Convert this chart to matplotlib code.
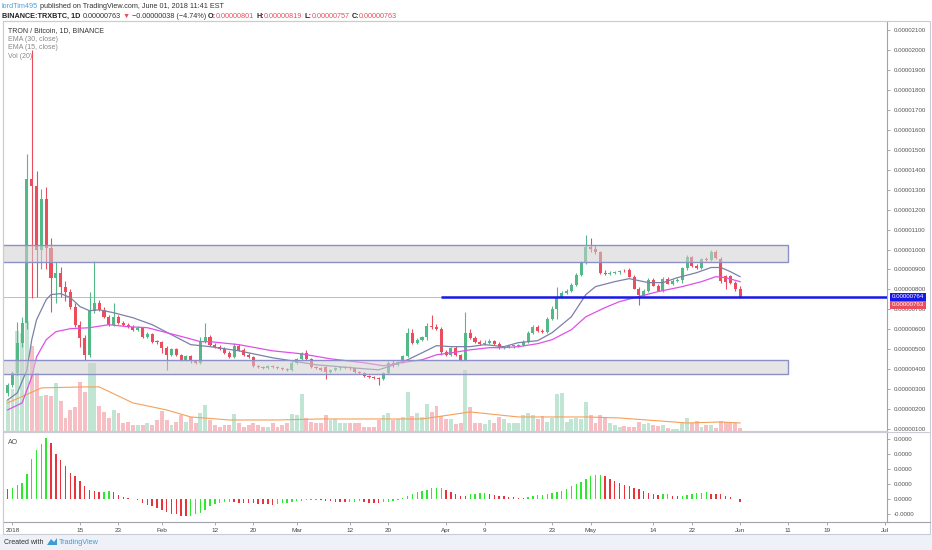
import numpy as np
import matplotlib
matplotlib.use("Agg")
import matplotlib.pyplot as plt
from matplotlib.patches import Rectangle, Polygon
from matplotlib.transforms import blended_transform_factory

W, H = 932, 550
plt.rcParams["font.family"] = ["Liberation Sans", "DejaVu Sans"]

# daily candles Dec 31 2017 .. Jun 01 2018, prices in satoshi (1e-8 BTC)
opens = [281,322,382,533,633,1352,1317,1000,1251,1010,
         859,884,814,789,714,623,558,472,693,734,
         698,663,623,663,633,623,613,598,608,563,
         575,538,535,508,472,500,472,447,467,440,
         432,540,563,523,513,503,482,462,518,498,
         472,462,417,412,407,417,412,407,402,397,
         432,452,482,450,412,405,410,387,397,405,
         408,410,404,387,382,367,362,357,352,382,
         432,420,437,467,583,533,548,560,618,610,
         603,487,472,508,472,447,583,558,538,528,
         533,543,528,508,513,515,518,523,538,583,
         613,593,588,653,700,764,784,794,824,874,
         935,1015,1005,990,884,879,882,886,894,899,
         864,804,774,794,849,819,794,854,829,844,
         849,905,965,915,905,955,945,990,955,866,
         866,834,801]
highs = [330,390,638,660,1477,2000,1392,1302,1312,1060,
         935,910,840,800,730,640,570,789,940,745,
         710,670,734,670,640,630,620,618,612,585,
         580,545,540,515,505,505,478,472,470,445,
         560,633,570,530,520,510,490,530,525,505,
         480,465,422,416,422,420,418,412,408,440,
         458,488,495,455,418,410,415,400,410,412,
         415,414,408,392,385,372,368,362,388,440,
         445,442,472,608,600,555,565,630,673,625,
         612,495,512,515,478,688,600,565,545,545,
         550,548,535,518,520,523,528,545,590,620,
         620,600,660,715,814,790,800,830,880,940,
         1075,1060,1025,995,895,890,890,898,902,905,
         870,810,800,855,858,825,860,862,850,855,
         910,975,970,925,960,962,1000,1000,965,870,
         870,840,819]
lows = [265,310,370,510,600,759,760,900,900,688,
        734,760,740,700,610,513,447,460,680,690,
        655,615,615,625,615,605,590,590,555,555,
        530,528,482,397,465,465,440,440,432,425,
        425,530,515,505,495,475,455,455,490,465,
        455,410,405,400,402,405,400,395,390,392,
        425,445,445,405,400,390,352,380,390,398,
        400,398,382,376,362,355,350,322,345,376,
        412,415,430,460,525,525,540,545,600,595,
        472,465,465,465,440,440,550,530,520,520,
        525,522,500,502,505,508,512,515,530,575,
        588,580,580,645,650,755,775,785,815,865,
        925,990,980,875,870,872,875,878,885,860,
        800,724,765,785,815,790,788,825,822,835,
        830,895,910,900,900,940,940,955,830,800,
        825,790,757]
closes = [322,382,533,633,1352,1317,1000,1251,1010,859,
          884,814,789,714,623,558,472,693,734,698,
          663,623,663,633,623,613,598,608,563,575,
          538,535,508,472,500,472,447,467,440,432,
          540,563,523,513,503,482,462,518,498,472,
          462,417,412,407,417,412,407,402,397,432,
          452,482,450,412,405,397,387,397,405,408,
          410,404,387,382,367,362,357,352,382,432,
          420,437,467,583,533,548,560,618,610,603,
          487,472,508,472,447,583,558,538,528,533,
          543,528,508,513,515,518,523,538,583,613,
          593,588,653,700,764,784,794,824,874,935,
          1015,1005,990,884,879,882,886,894,890,864,
          804,774,794,849,819,794,854,829,844,849,
          905,965,915,905,955,945,990,960,840,836,
          834,801,763]
volume = [31,42,100,98,110,85,58,35,36,35,
          48,30,13,21,24,49,39,68,68,25,
          19,13,21,18,8,9,6,6,6,8,
          6,11,20,11,6,9,16,9,14,8,
          18,26,11,6,4,6,6,17,8,4,
          6,8,6,4,4,8,4,6,8,17,
          16,37,13,9,8,8,16,11,12,8,
          8,8,8,8,4,4,4,11,16,18,
          11,12,14,39,15,18,14,27,19,25,
          15,12,12,7,8,61,24,8,8,7,
          11,8,14,12,8,8,8,16,18,16,
          12,15,9,13,37,38,9,12,13,12,
          29,16,8,16,14,8,6,4,5,4,
          4,9,7,8,6,5,6,3,2,2,
          9,13,8,10,4,6,6,3,10,9,
          8,8,3]
ao = [69,71,91,109,169,269,324,364,407,375,
      298,258,220,175,153,118,87,58,51,46,
      48,53,44,27,11,4,1,-9,-27,-40,
      -49,-62,-71,-89,-98,-100,-111,-116,-111,-100,
      -93,-71,-49,-33,-27,-22,-20,-22,-24,-26,
      -27,-29,-31,-33,-35,-37,-33,-29,-25,-20,
      -16,-12,-9,-6,-3,-8,-12,-15,-18,-20,
      -22,-20,-18,-16,-20,-24,-27,-28,-22,-18,
      -11,-4,4,22,33,44,56,62,71,72,
      73,58,49,33,22,18,33,34,40,41,
      33,27,22,18,13,11,9,8,13,18,
      24,27,33,40,49,56,67,84,100,116,
      133,151,160,161,151,133,118,104,93,89,
      76,67,53,40,33,29,33,34,22,18,
      22,29,33,38,40,44,36,35,33,22,
      13,1,-22]
ao_before = 75

ema15_days = [-1,1,3,4,5,7,8,10,12,14,16,18,21,25,29,33,37,41,47,54,
              58,63,68,73,76,78,82,85,88,91,95,98,102,105,109,112,116,119,121,125,
              128,132,135,138,142,145,147,149,151]
ema15_vals = [246,281,397,548,648,749,774,779,759,714,693,698,683,658,623,573,523,513,492,457,
              442,422,412,402,397,412,447,482,518,513,513,523,513,533,543,583,663,774,814,839,
              854,834,834,859,884,910,910,889,864]
ema30_days = [-1,2,4,5,7,9,12,16,20,24,28,32,36,39,41,47,54,60,66,73,
              77,82,85,88,91,95,99,102,105,109,112,116,119,123,126,130,134,139,143,146,
              148,151]
ema30_vals = [196,231,362,462,548,588,603,608,623,613,608,583,558,538,538,523,492,477,452,432,
              417,437,447,472,482,497,508,508,513,528,548,598,663,709,739,764,789,814,839,864,
              859,839]
volma_days = [-1,6,15,18,25,32,37,45,55,64,78,85,95,105,119,126,140,147,151]
volma_vals = [28,43,44,44,28,21,14,11,11,12,12,12,19,14,14,13,8,9,8]

tick_days = [0,14,22,31,42,50,59,70,78,90,98,112,120,133,141,151,161,169,181]
tick_labels = ["2018","15","23","Feb","12","20","Mar","12","20","Apr","9","23",
               "May","14","22","Jun","11","19","Jul"]
price_ticks = list(range(100, 2200, 100))
ao_ticks = [-100, 0, 100, 200, 300, 400]

zone_hi = (935, 1025)
zone_lo = (377, 447)
zone_end = 161
level = 764
level_start = 89
last = 763

GREEN, RED = "#53b987", "#eb4d5c"
GRID = "#c9ccd4"


def rect(l, t, r, b):
    return [l / W, 1 - b / H, (r - l) / W, (b - t) / H]


fig = plt.figure(figsize=(W / 100, H / 100), dpi=100)
fig.patch.set_facecolor("white")

days = np.arange(len(opens)) - 1
o, h, l, c = map(np.array, (opens, highs, lows, closes))
col = np.where(c >= o, GREEN, RED)
XLIM = (-1.97, 181.5)

ax_vol = fig.add_axes(rect(3, 21, 887, 431))
ax = fig.add_axes(rect(3, 21, 887, 431), sharex=ax_vol)
ax_ao = fig.add_axes(rect(3, 432, 887, 522), sharex=ax_vol)
ax.patch.set_visible(False)

# volume overlay
ax_vol.bar(days, volume, width=0.82, color=col, alpha=0.36, linewidth=0)
ax_vol.plot(volma_days, volma_vals, color="#f5a05a", lw=0.8)
ax_vol.set_ylim(0, 409)
ax_vol.axis("off")

# candles
ax.vlines(days, l, h, colors=col, lw=0.8, zorder=3)
ax.bar(days, np.maximum(np.abs(c - o), 4), bottom=np.minimum(o, c), width=0.64,
       color=col, linewidth=0, zorder=4)
ax.plot(ema15_days, ema15_vals, color="#7c80a8", lw=0.9, zorder=5)
ax.plot(ema30_days, ema30_vals, color="#e050e6", lw=0.9, zorder=5)

# zones
for lo_, hi_ in (zone_hi, zone_lo):
    ax.add_patch(Rectangle((XLIM[0] - 1, lo_), zone_end - XLIM[0] + 1, hi_ - lo_,
                           facecolor="#d0d0d0", alpha=0.55, linewidth=0, zorder=6))
    ax.add_patch(Rectangle((XLIM[0] - 1, lo_), zone_end - XLIM[0] + 1, hi_ - lo_,
                           fill=False, edgecolor="#8d90c8", lw=1.0, zorder=6))

ax.axhline(last, color="#f3a6ae", lw=0.7, zorder=2)
ax.hlines(level, level_start, XLIM[1], color="#1717e6", lw=1.8, zorder=7)

ax.set_xlim(*XLIM)
ax.set_ylim(90, 2146)
ax.yaxis.tick_right()
ax.set_yticks(price_ticks, [f"{v * 1e-8:.8f}" for v in price_ticks])
ax.tick_params(axis="y", right=True, length=2.5, width=0.6, color="#999",
               labelsize=4.4, labelcolor="#555", pad=2)
ax.tick_params(axis="x", bottom=False, labelbottom=False)
for s in ax.spines.values():
    s.set_color(GRID)
    s.set_linewidth(0.8)
ax.spines["right"].set_color("#a0a3ab")

tr = blended_transform_factory(ax.transAxes, ax.transData)
ax.annotate(f"{level * 1e-8:.8f}", xy=(1, level), xycoords=tr, xytext=(5, 0),
            textcoords="offset pixels", va="center", ha="left", fontsize=4.4,
            color="white", annotation_clip=False,
            bbox=dict(boxstyle="square,pad=0.25", fc="#1717e6", ec="none"))
ax.annotate(f"{last * 1e-8:.8f}", xy=(1, last), xycoords=tr, xytext=(5, -8),
            textcoords="offset pixels", va="center", ha="left", fontsize=4.4,
            color="white", annotation_clip=False,
            bbox=dict(boxstyle="square,pad=0.25", fc=RED, ec="none"))

# AO pane
diff = np.diff(np.array(ao), prepend=ao_before)
ao_col = np.where(diff > 0, "#2ee82e", "#e8333c")
ax_ao.bar(days, ao, width=0.3, color=ao_col, linewidth=0)
ax_ao.set_ylim(-153, 447)
ax_ao.yaxis.tick_right()
ax_ao.set_yticks(ao_ticks, [f"{v * 1e-8:.4f}" for v in ao_ticks])
ax_ao.tick_params(axis="y", right=True, length=2.5, width=0.6, color="#999",
                  labelsize=4.4, labelcolor="#555", pad=2)
ax_ao.set_xticks(tick_days, tick_labels)
ax_ao.tick_params(axis="x", length=2, width=0.6, color="#999", labelsize=4.6,
                  labelcolor="#444", pad=2)
for s in ax_ao.spines.values():
    s.set_color(GRID)
    s.set_linewidth(0.8)
ax_ao.spines["right"].set_color("#a0a3ab")
ax_ao.spines["bottom"].set_color("#a0a3ab")
ax_ao.set_xlim(*XLIM)

# frame lines to the right edge
fig.add_artist(plt.Line2D([887 / W, 930 / W], [1 - 432 / H] * 2, color=GRID, lw=0.8))
fig.add_artist(plt.Line2D([887 / W, 930 / W], [1 - 522 / H] * 2, color="#a0a3ab", lw=0.8))
fig.add_artist(Rectangle((3 / W, 1 - 534 / H), 927 / W, 513 / H, fill=False,
                         edgecolor=GRID, lw=0.8, transform=fig.transFigure))

# footer
fig.add_artist(Rectangle((0, 0), 1, 16 / H, facecolor="#eef2f8", edgecolor="none",
                         transform=fig.transFigure, zorder=0))
fig.text(4 / W, 1 - 542 / H, "Created with", fontsize=5, color="#333", va="center")
fig.add_artist(Polygon([[47 / W, 1 - 545 / H], [51 / W, 1 - 539 / H], [54 / W, 1 - 542 / H],
                        [57 / W, 1 - 538 / H], [57 / W, 1 - 545 / H]],
                       closed=True, facecolor="#3e9bd6", transform=fig.transFigure))
fig.text(59 / W, 1 - 542 / H, "TradingView", fontsize=5.2, color="#3e9bd6", va="center")

# header and legend text
rend = fig.canvas.get_renderer()


def runs(x, y, parts, size):
    for txt, color, weight, gap in parts:
        t = fig.text(x / W, 1 - y / H, txt, fontsize=size, color=color,
                     fontweight=weight, va="center", ha="left")
        x += t.get_window_extent(rend).width + gap


runs(2, 6, [("lordTim495", "#4aa3df", "normal", 2),
            ("published on TradingView.com, June 01, 2018 11:41 EST", "#333", "normal", 0)], 5.2)
runs(2, 16, [("BINANCE:TRXBTC, 1D", "#222", "bold", 2),
             ("0.00000763", "#333", "normal", 2),
             ("\u25bc", RED, "normal", 2),
             ("\u22120.00000038 (\u22124.74%)", "#333", "normal", 2),
             ("O:", "#222", "bold", 0), ("0.00000801", RED, "normal", 2),
             ("H:", "#222", "bold", 0), ("0.00000819", RED, "normal", 2),
             ("L:", "#222", "bold", 0), ("0.00000757", RED, "normal", 2),
             ("C:", "#222", "bold", 0), ("0.00000763", RED, "normal", 0)], 5.2)

legend = [("TRON / Bitcoin, 1D, BINANCE", "#333"), ("EMA (30, close)", "#888"),
          ("EMA (15, close)", "#888"), ("Vol (20)", "#888")]
for i, (txt, color) in enumerate(legend):
    fig.text(8 / W, 1 - (30.5 + 8.6 * i) / H, txt, fontsize=5, color=color, va="center")
fig.text(8 / W, 1 - 442 / H, "AO", fontsize=5, color="#555", va="center")

fig.savefig("out.png", dpi=100)
